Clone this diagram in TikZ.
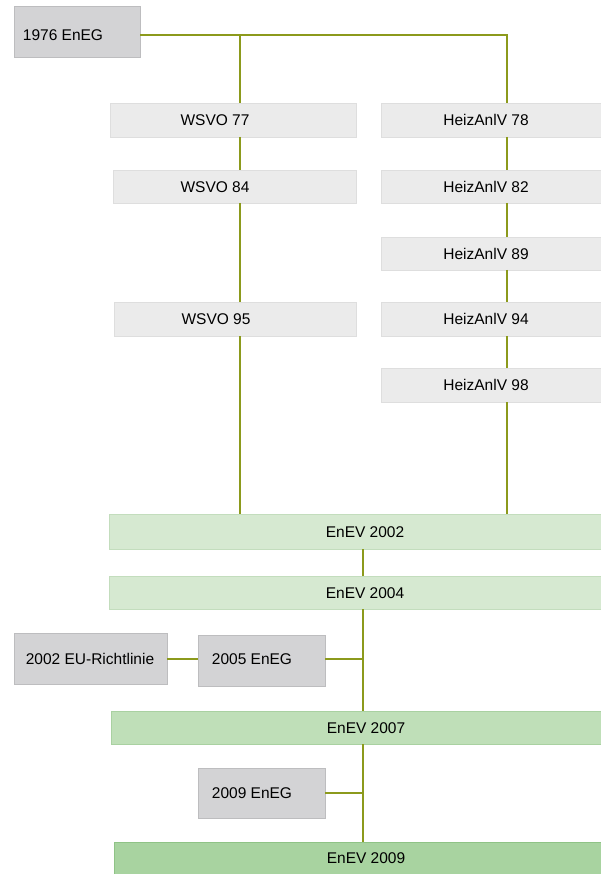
\documentclass[tikz,border=0pt]{standalone}
\usepackage{fontspec}
\setmainfont{Liberation Sans}
\definecolor{linec}{HTML}{8C9A1C}
\definecolor{lgray}{HTML}{EBEBEB}
\definecolor{lgrayd}{HTML}{DEDEDE}
\definecolor{dgray}{HTML}{D3D3D5}
\definecolor{dgrayd}{HTML}{BDBDBF}
\definecolor{gA}{HTML}{D6E9D1}
\definecolor{gAd}{HTML}{C3DDBD}
\definecolor{gB}{HTML}{BFDFB8}
\definecolor{gBd}{HTML}{A9D1A1}
\definecolor{gC}{HTML}{A8D3A0}
\definecolor{gCd}{HTML}{8FC386}
\begin{document}
\begin{tikzpicture}[x=1pt,y=-1pt,
  every node/.style={inner sep=0pt, outer sep=0pt},
  lbox/.style={fill=lgray, draw=lgrayd, line width=0.8pt},
  dbox/.style={fill=dgray, draw=dgrayd, line width=1pt},
  greenA/.style={fill=gA, draw=gAd, line width=0.8pt},
  greenB/.style={fill=gB, draw=gBd, line width=0.8pt},
  greenC/.style={fill=gC, draw=gCd, line width=0.8pt},
  lbl/.style={font=\fontsize{15.5}{18}\selectfont, text=black},
  conn/.style={draw=linec, line width=1.4pt}]
\useasboundingbox (0,0) rectangle (601,874);

% boxes
\node[dbox, minimum width=126pt, minimum height=51pt] (e76) at (77,32.5) {};
\node[lbox, minimum width=246pt, minimum height=34pt] (w77) at (233,120) {};
\node[lbox, minimum width=243pt, minimum height=33pt] (w84) at (234.5,186.5) {};
\node[lbox, minimum width=242pt, minimum height=34pt] (w95) at (235,319) {};
\node[lbox, minimum width=221pt, minimum height=34pt] (h78) at (491.5,120) {};
\node[lbox, minimum width=221pt, minimum height=33pt] (h82) at (491.5,186.5) {};
\node[lbox, minimum width=221pt, minimum height=33pt] (h89) at (491.5,253.5) {};
\node[lbox, minimum width=221pt, minimum height=34pt] (h94) at (491.5,319) {};
\node[lbox, minimum width=221pt, minimum height=34pt] (h98) at (491.5,385) {};
\node[greenA, minimum width=493pt, minimum height=35pt] (e02) at (355.5,531.5) {};
\node[greenA, minimum width=493pt, minimum height=33pt] (e04) at (355.5,592.5) {};
\node[dbox, minimum width=153pt, minimum height=51pt] (eu) at (90.5,658.5) {};
\node[dbox, minimum width=127pt, minimum height=51pt] (n05) at (261.5,660.5) {};
\node[greenB, minimum width=491pt, minimum height=33pt] (e07) at (356.5,727.5) {};
\node[dbox, minimum width=127pt, minimum height=50pt] (n09) at (261.5,793) {};
\node[greenC, minimum width=488pt, minimum height=33pt] (e09) at (358,858.5) {};

% labels
\node[lbl] (t76) at (63,35) {1976 EnEG};
\node[lbl] (tw77) at (215,120) {WSVO 77};
\node[lbl] (tw84) at (215,187) {WSVO 84};
\node[lbl] (tw95) at (216,319) {WSVO 95};
\node[lbl] (th78) at (486,120) {HeizAnlV 78};
\node[lbl] (th82) at (486,187) {HeizAnlV 82};
\node[lbl] (th89) at (486,254) {HeizAnlV 89};
\node[lbl] (th94) at (486,319) {HeizAnlV 94};
\node[lbl] (th98) at (486,385) {HeizAnlV 98};
\node[lbl] (te02) at (365,532) {EnEV 2002};
\node[lbl] (te04) at (365,593) {EnEV 2004};
\node[lbl] (teu) at (90,659) {2002 EU-Richtlinie};
\node[lbl] (tn05) at (252,659) {2005 EnEG};
\node[lbl] (te07) at (366,728) {EnEV 2007};
\node[lbl] (tn09) at (252,793) {2009 EnEG};
\node[lbl] (te09) at (366,858) {EnEV 2009};

% junction coordinates
\coordinate (jl) at (240,35);
\coordinate (jr) at (507,35);
\coordinate (jc) at (363,560);

% connectors
\draw[conn] (e76.east |- jl) -- (jr) -- (h78.north -| jr);
\draw[conn] (jl) -- (w77.north -| jl);
\draw[conn] (w77.south -| jl) -- (w84.north -| jl);
\draw[conn] (w84.south -| jl) -- (w95.north -| jl);
\draw[conn] (w95.south -| jl) -- (e02.north -| jl);
\draw[conn] (h78.south -| jr) -- (h82.north -| jr);
\draw[conn] (h82.south -| jr) -- (h89.north -| jr);
\draw[conn] (h89.south -| jr) -- (h94.north -| jr);
\draw[conn] (h94.south -| jr) -- (h98.north -| jr);
\draw[conn] (h98.south -| jr) -- (e02.north -| jr);
\draw[conn] (e02.south -| jc) -- (e04.north -| jc);
\draw[conn] (e04.south -| jc) -- (e07.north -| jc);
\draw[conn] (e07.south -| jc) -- (e09.north -| jc);
\draw[conn] (eu.east |- tn05) -- (n05.west |- tn05);
\draw[conn] (n05.east |- tn05) -- (tn05 -| jc);
\draw[conn] (n09.east) -- (n09 -| jc);
\end{tikzpicture}
\end{document}
